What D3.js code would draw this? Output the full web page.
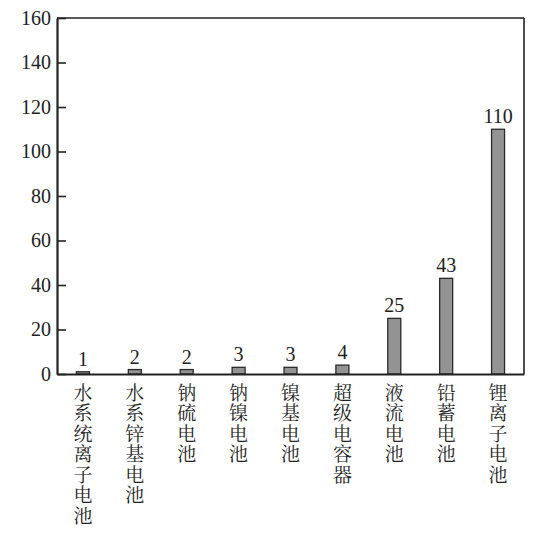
<!DOCTYPE html>
<html>
<head>
<meta charset="utf-8">
<script src="https://cdn.jsdelivr.net/npm/d3@7"></script>
<style>
  body { margin: 0; background: #fff; }
  svg text { fill: #222; }
</style>
</head>
<body>
<div id="chart"></div>
<script>
// data
var categories = ["水系统离子电池", "水系锌基电池", "钠硫电池", "钠镍电池", "镍基电池",
                  "超级电容器", "液流电池", "铅蓄电池", "锂离子电池"];
var values = [1, 2, 2, 3, 3, 4, 25, 43, 110];
var yTicks = [0, 20, 40, 60, 80, 100, 120, 140, 160];

var width = 550, height = 540;
var margin = { top: 18, right: 26, bottom: 166, left: 57 };
var innerW = width - margin.left - margin.right;
var innerH = height - margin.top - margin.bottom;
var serif = "'Liberation Serif', 'DejaVu Serif', serif";

var svg = d3.select("#chart").append("svg")
    .attr("width", width)
    .attr("height", height);

var g = svg.append("g")
    .attr("transform", "translate(" + margin.left + "," + margin.top + ")");

var x = d3.scaleBand().domain(categories).range([0, innerW]).padding(0);
var y = d3.scaleLinear().domain([0, 160]).range([innerH, 0]);

var barW = 13;

// frame (top + right)
g.append("line").attr("x1", 0).attr("x2", innerW).attr("y1", 0).attr("y2", 0)
    .attr("stroke", "#222").attr("stroke-width", 1.6);
g.append("line").attr("x1", innerW).attr("x2", innerW).attr("y1", 0).attr("y2", innerH)
    .attr("stroke", "#222").attr("stroke-width", 1.6);

// bars
g.selectAll("rect.bar")
    .data(values)
    .enter().append("rect")
    .attr("class", "bar")
    .attr("x", function (d, i) { return x(categories[i]) + x.bandwidth() / 2 - barW / 2; })
    .attr("y", function (d) { return y(d); })
    .attr("width", barW)
    .attr("height", function (d) { return innerH - y(d); })
    .attr("fill", "#939393")
    .attr("stroke", "#2a2a2a")
    .attr("stroke-width", 1.3);

// value labels
g.selectAll("text.val")
    .data(values)
    .enter().append("text")
    .attr("class", "val")
    .attr("x", function (d, i) { return x(categories[i]) + x.bandwidth() / 2; })
    .attr("y", function (d) { return y(d) - 6; })
    .attr("text-anchor", "middle")
    .style("font-family", serif)
    .style("font-size", "20px")
    .text(function (d) { return d; });

// y axis, ticks pointing inward
var yAxis = g.append("g")
    .attr("font-family", serif)
    .call(d3.axisRight(y).tickValues(yTicks).tickSize(9).tickSizeOuter(0).tickFormat(d3.format("d")));
yAxis.attr("font-family", serif);
yAxis.select(".domain").attr("stroke", "#222").attr("stroke-width", 2.2);
yAxis.selectAll(".tick line").attr("stroke", "#222").attr("stroke-width", 1.6);
yAxis.selectAll(".tick text")
    .attr("x", -6)
    .attr("text-anchor", "end")
    .style("font-family", serif)
    .style("font-size", "20px")
    .style("fill", "#222");

// x axis line
var xAxis = g.append("g")
    .attr("transform", "translate(0," + innerH + ")")
    .call(d3.axisBottom(x).tickSize(0).tickFormat(""));
xAxis.select(".domain").attr("stroke", "#222").attr("stroke-width", 2.2);

// vertical category labels
g.selectAll("text.cat")
    .data(categories)
    .enter().append("text")
    .attr("class", "cat")
    .attr("x", function (d) { return x(d) + x.bandwidth() / 2; })
    .attr("y", innerH + 9)
    .style("writing-mode", "vertical-rl")
    .style("font-family", "'Noto Serif CJK SC', 'Noto Sans CJK SC', sans-serif")
    .style("font-size", "19px")
    .style("letter-spacing", "1.5px")
    .style("fill", "#222")
    .text(function (d) { return d; });
</script>
</body>
</html>
